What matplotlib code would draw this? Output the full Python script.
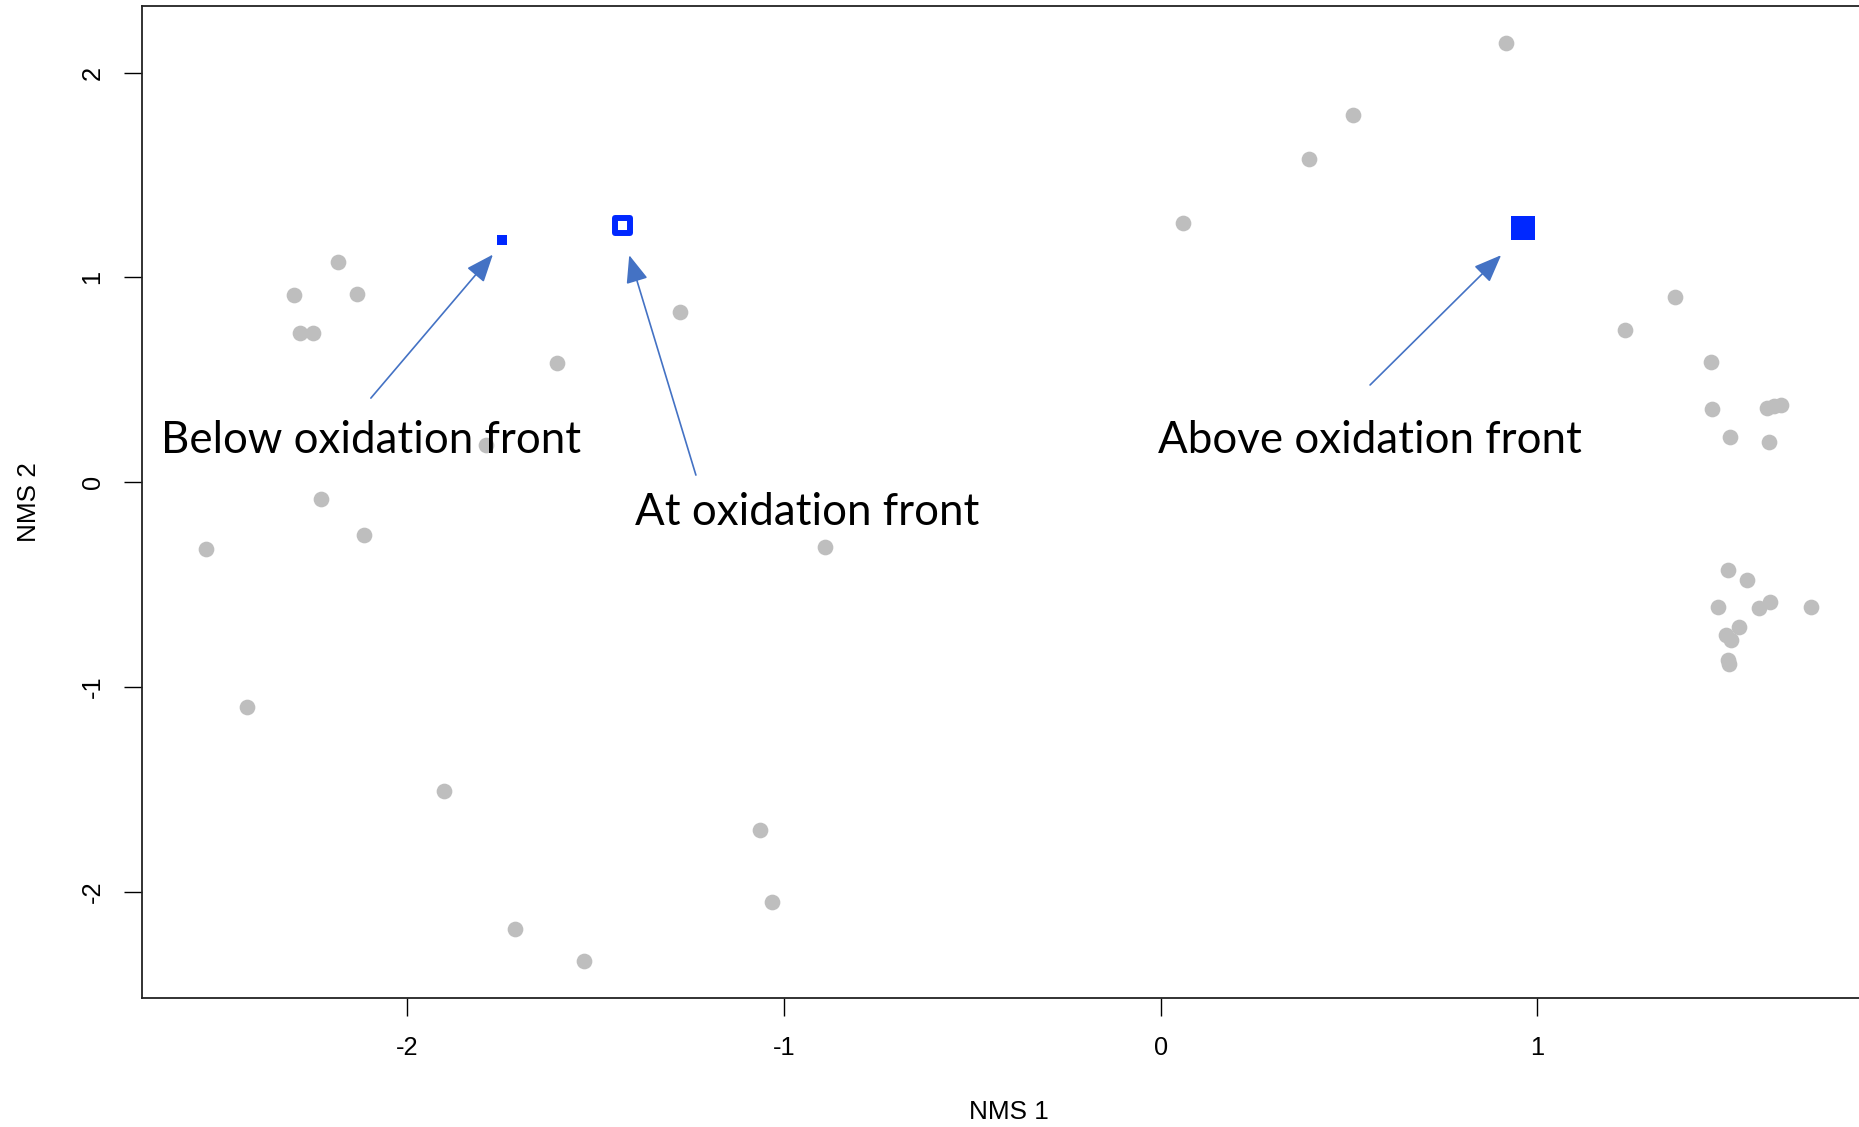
import matplotlib
matplotlib.use("Agg")
import matplotlib.pyplot as plt
from matplotlib.markers import MarkerStyle
import numpy as np

# NMS ordination scores for all samples (grey)
nms1 = [-2.301, -2.184, -2.134, -2.285, -2.251, -1.602, -1.275, -1.790,
        -2.229, -2.115, -2.534, -2.427, -1.904, -1.715, -1.530, -1.064,
        -1.032, -0.891,
        0.916, 0.510, 0.393, 0.060, 1.366, 1.234,
        1.461, 1.465, 1.512, 1.611, 1.628, 1.648, 1.614,
        1.507, 1.558, 1.481, 1.589, 1.618, 1.726, 1.501, 1.536, 1.514,
        1.507, 1.509]
nms2 = [0.912, 1.073, 0.917, 0.726, 0.726, 0.582, 0.831, 0.181,
        -0.084, -0.258, -0.327, -1.097, -1.508, -2.185, -2.341, -1.699,
        -2.052, -0.315,
        2.144, 1.792, 1.577, 1.264, 0.906, 0.744,
        0.586, 0.358, 0.221, 0.361, 0.371, 0.375, 0.194,
        -0.431, -0.479, -0.610, -0.614, -0.586, -0.609, -0.746, -0.709,
        -0.771, -0.869, -0.889]

# Samples highlighted relative to the oxidation front
below_xy = (-1.749, 1.183)
at_xy = (-1.430, 1.255)
above_xy = (0.962, 1.242)

# Annotation labels: text anchor and arrow (tail -> head)
labels = ["Below oxidation front", "At oxidation front", "Above oxidation front"]
label_xy = [(-2.653, 0.142), (-1.396, -0.210), (-0.008, 0.142)]
arrow_tail = [(-2.097, 0.410), (-1.234, 0.034), (0.556, 0.474)]
arrow_head = [(-1.773, 1.111), (-1.411, 1.108), (0.904, 1.108)]

x_ticks = [-2, -1, 0, 1]
y_ticks = [-2, -1, 0, 1, 2]

BLUE = "#0028FF"
GREY = "#BEBEBE"
ARROW = "#4472C4"


def r_limits(vals):
    lo, hi = min(vals), max(vals)
    pad = 0.04 * (hi - lo)
    return lo - pad, hi + pad


all_x = nms1 + [below_xy[0], at_xy[0], above_xy[0]]
all_y = nms2 + [below_xy[1], at_xy[1], above_xy[1]]
xlim = r_limits(all_x)
ylim = r_limits(all_y)

fig = plt.figure(figsize=(18.59, 11.27), dpi=100)
ax = fig.add_axes([0.07644, 0.11437, 0.93211, 0.88003])
ax.set_xlim(*xlim)
ax.set_ylim(*ylim)

ax.plot(nms1, nms2, linestyle="none", marker="o", markersize=11.3,
        color=GREY, markeredgewidth=0, zorder=2)

ax.plot([below_xy[0]], [below_xy[1]], linestyle="none", marker="s",
        markersize=6.5, color=BLUE, markeredgewidth=0, zorder=3)
ax.plot([above_xy[0]], [above_xy[1]], linestyle="none", marker="s",
        markersize=17.3, color=BLUE, markeredgewidth=0, zorder=3)
open_sq = MarkerStyle("s", joinstyle="round")
ax.plot([at_xy[0]], [at_xy[1]], linestyle="none", marker=open_sq,
        markersize=10.8, markerfacecolor="white", markeredgecolor=BLUE,
        markeredgewidth=4.3, zorder=3)

for txt, (tx, ty) in zip(labels, label_xy):
    ax.text(tx, ty, txt, fontsize=31.6, family=["Lato", "DejaVu Sans"],
            ha="left", va="baseline", color="black", zorder=4)

for tail, head in zip(arrow_tail, arrow_head):
    ax.annotate("", xy=head, xytext=tail,
                arrowprops=dict(arrowstyle="-|>,head_length=0.95,head_width=0.38",
                                color=ARROW, lw=1.2, mutation_scale=18,
                                shrinkA=0, shrinkB=0),
                zorder=5)

tick_font = ["Liberation Sans", "DejaVu Sans"]
ax.set_xticks(x_ticks)
ax.set_yticks(y_ticks)
ax.set_xticklabels([str(v) for v in x_ticks], fontsize=18.3, family=tick_font)
ax.set_yticklabels([str(v) for v in y_ticks], fontsize=18.3, family=tick_font,
                   rotation=90, va="center")
ax.tick_params(axis="both", direction="out", length=13, width=1.0,
               pad=14, color="black")

for sp in ax.spines.values():
    sp.set_linewidth(1.3)
    sp.set_color("#222222")

ax.set_xlabel("NMS 1", fontsize=18.8, family=tick_font, va="center")
ax.xaxis.set_label_coords(0.5, -0.115)
ax.set_ylabel("NMS 2", fontsize=18.8, family=tick_font, va="center",
              rotation=90)
ax.yaxis.set_label_coords(-0.0652, 0.5)

fig.savefig("out.png", dpi=100)
